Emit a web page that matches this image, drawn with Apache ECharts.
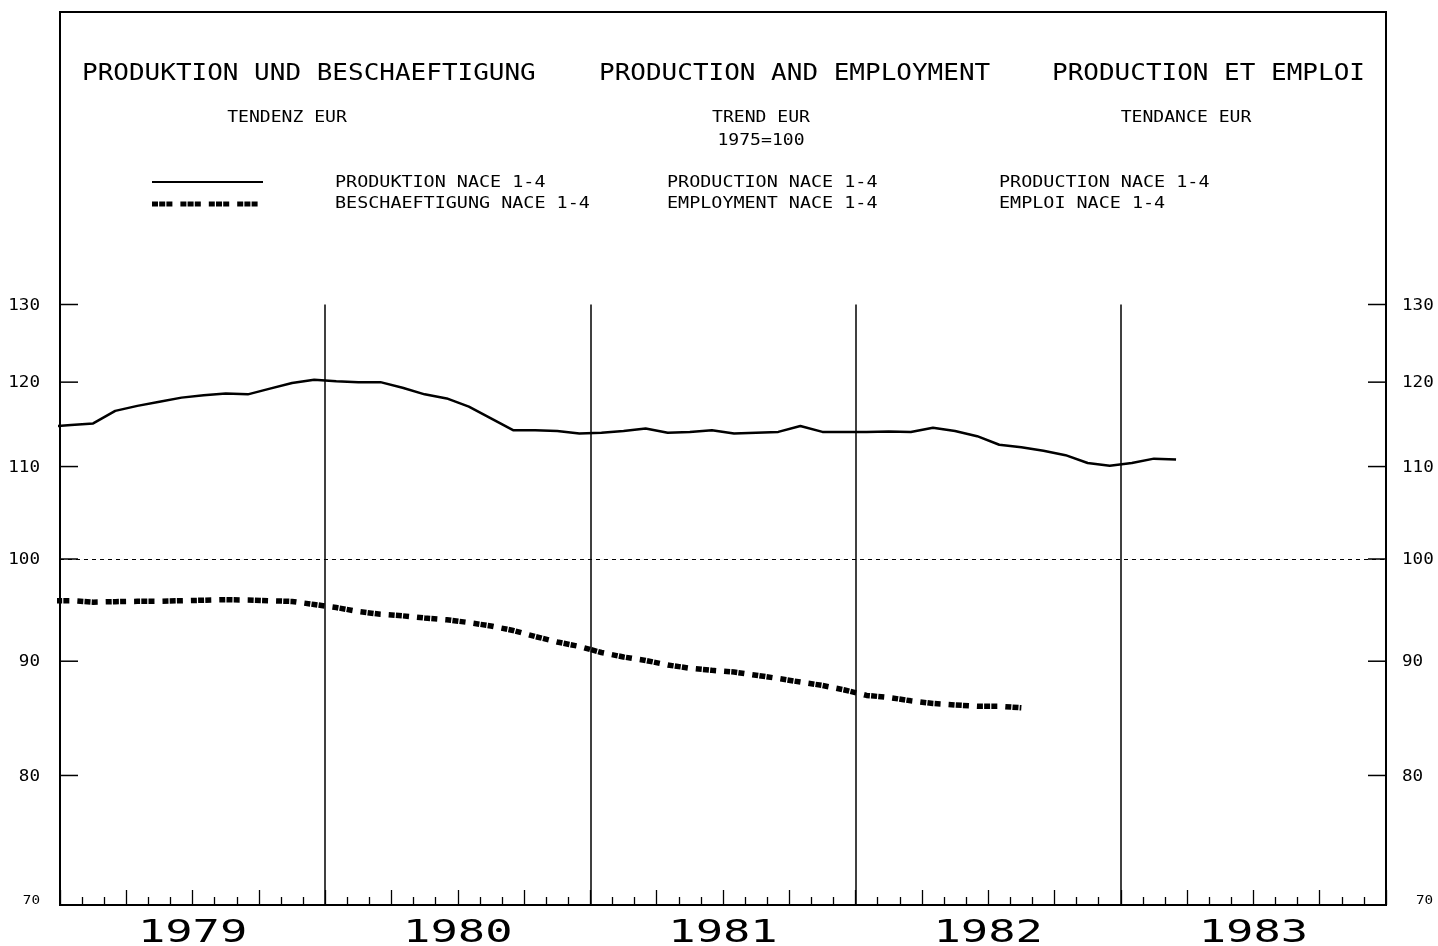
<!DOCTYPE html>
<html><head><meta charset="utf-8">
<script src="https://cdn.jsdelivr.net/npm/echarts@6/dist/echarts.min.js"></script>
<style>html,body{margin:0;padding:0;background:#fff}#c{width:1438px;height:946px}</style>
</head><body><div id="c"></div>
<script>
// ---- data ----
const years = ['1979', '1980', '1981', '1982', '1983'];
const yTicks = [70, 80, 90, 100, 110, 120, 130];
const firstMonth = -1; // first value = Dec 1978 (month index relative to Jan 1979)
// Production NACE 1-4, trend, 1975=100 (Dec 1978 .. Mar 1983)
const production = [
  114.6,
  114.8, 115.0, 116.5, 117.1, 117.6, 118.1, 118.4, 118.6, 118.5, 119.2, 119.9, 120.3,
  120.1, 120.0, 120.0, 119.3, 118.5, 118.0, 117.0, 115.6, 114.2, 114.2, 114.1, 113.8,
  113.9, 114.1, 114.4, 113.9, 114.0, 114.2, 113.8, 113.9, 114.0, 114.7, 114.0, 114.0,
  114.0, 114.05, 114.0, 114.5, 114.1, 113.5, 112.5, 112.2, 111.8, 111.3, 110.4, 110.1,
  110.4, 110.9, 110.8
];
// Employment NACE 1-4, trend, 1975=100 (Dec 1978 .. Aug 1982)
const employment = [
  95.8,
  95.8, 95.65, 95.7, 95.73, 95.74, 95.79, 95.84, 95.89, 95.86, 95.79, 95.72, 95.42,
  95.12, 94.73, 94.46, 94.31, 94.10, 93.93, 93.66, 93.33, 92.90, 92.32, 91.80, 91.38,
  90.81, 90.39, 90.07, 89.65, 89.35, 89.16, 89.00, 88.71, 88.41, 88.09, 87.78, 87.37,
  86.88, 86.70, 86.40, 86.16, 86.03, 85.92, 85.92, 85.78
];
const titles = ['PRODUKTION UND BESCHAEFTIGUNG', 'PRODUCTION AND EMPLOYMENT', 'PRODUCTION ET EMPLOI'];
const subtitles = ['TENDENZ EUR', 'TREND EUR', 'TENDANCE EUR'];
const baseNote = '1975=100';
const legendProd = ['PRODUKTION NACE 1-4', 'PRODUCTION NACE 1-4', 'PRODUCTION NACE 1-4'];
const legendEmp = ['BESCHAEFTIGUNG NACE 1-4', 'EMPLOYMENT NACE 1-4', 'EMPLOI NACE 1-4'];

// ---- chart ----
const FONT = '"DejaVu Sans Mono", monospace';
const xMax = years.length * 12;
const empDash = [6, 1.2, 6, 1.2, 6, 8];

const toPts = arr => arr.map((v, i) => [firstMonth + i + 0.5, v]);

function txt(text, x, y, size, sx, align) {
  return {
    type: 'text', x: x, y: y, scaleX: sx, silent: true,
    style: { text: text, font: 'normal ' + size + 'px ' + FONT, fill: '#000',
      textAlign: align || 'left', textVerticalAlign: 'middle' }
  };
}

const titleX = [82, 599, 1052];
const subX = [287, 761, 1186];
const legX = [335, 667, 999];
const graphics = [];
titles.forEach((t, i) => graphics.push(txt(t, titleX[i], 74, 23, 1.13, 'left')));
subtitles.forEach((t, i) => graphics.push(txt(t, subX[i], 118, 16, 1.13, 'center')));
graphics.push(txt(baseNote, subX[1], 141, 16, 1.13, 'center'));
legendProd.forEach((t, i) => graphics.push(txt(t, legX[i], 183, 16, 1.15, 'left')));
legendEmp.forEach((t, i) => graphics.push(txt(t, legX[i], 204, 16, 1.15, 'left')));
graphics.push({ type: 'line', silent: true, shape: { x1: 152, y1: 182, x2: 263, y2: 182 },
  style: { stroke: '#000', lineWidth: 2 } });
graphics.push({ type: 'line', silent: true, shape: { x1: 152, y1: 204, x2: 263, y2: 204 },
  style: { stroke: '#000', lineWidth: 5, lineDash: empDash } });

const yearLines = years.slice(0, -1).map((y, i) => [
  { coord: [(i + 1) * 12, 70] }, { coord: [(i + 1) * 12, 130] }
]);

const option = {
  animation: false,
  backgroundColor: '#fff',
  grid: { left: 60, right: 52, top: 12, bottom: 41, show: true, borderColor: '#000', borderWidth: 2, backgroundColor: 'transparent' },
  xAxis: {
    type: 'value', min: 0, max: xMax, interval: 3,
    axisLine: { show: true, lineStyle: { color: '#000', width: 2 } },
    axisTick: { show: true, inside: true, length: 15, lineStyle: { color: '#000', width: 1.3 } },
    minorTick: { show: true, splitNumber: 3, length: 8, lineStyle: { color: '#000', width: 1.3 } },
    axisLabel: { show: false },
    splitLine: { show: false }
  },
  yAxis: {
    type: 'log', min: 70, max: 175.75,
    axisLine: { show: false }, axisTick: { show: false }, axisLabel: { show: false }, splitLine: { show: false }
  },
  graphic: graphics,
  series: [
    {
      name: 'production', type: 'line', data: toPts(production), showSymbol: false, symbol: 'none',
      lineStyle: { color: '#000', width: 2.5 }, z: 4,
      markLine: {
        silent: true, symbol: ['none', 'none'], label: { show: false }, animation: false,
        lineStyle: { color: '#000', width: 1.5, type: 'solid' },
        data: [
          { yAxis: 100, lineStyle: { type: [4, 4], width: 1, color: '#000' } }
        ].concat(yearLines)
      }
    },
    {
      name: 'employment', type: 'line', data: toPts(employment), showSymbol: false, symbol: 'none',
      lineStyle: { color: '#000', width: 5.5, type: empDash, cap: 'butt' }, z: 4
    },
    {
      name: 'yLabels', type: 'custom', silent: true, clip: false, z: 6,
      data: yTicks.map(v => [0, v]),
      renderItem: function (params, api) {
        const v = api.value(1);
        const pL = api.coord([0, v]);
        const pR = api.coord([xMax, v]);
        const isMin = v === yTicks[0];
        const ch = [];
        if (!isMin) {
          ch.push({ type: 'line', shape: { x1: pL[0], y1: pL[1], x2: pL[0] + 18, y2: pL[1] }, style: { stroke: '#000', lineWidth: 1.5 } });
          ch.push({ type: 'line', shape: { x1: pR[0] - 18, y1: pR[1], x2: pR[0], y2: pR[1] }, style: { stroke: '#000', lineWidth: 1.5 } });
        }
        const size = isMin ? 13 : 16;
        const dy = isMin ? -4 : 1;
        ch.push(txt(String(v), pL[0] - 20, pL[1] + dy, size, 1.1, 'right'));
        ch.push(txt(String(v), pR[0] + (isMin ? 30 : 16), pR[1] + dy, size, 1.1, 'left'));
        return { type: 'group', children: ch };
      }
    },
    {
      name: 'yearLabels', type: 'custom', silent: true, clip: false, z: 6,
      data: years.map((y, i) => [i * 12 + 6, 70]),
      renderItem: function (params, api) {
        const p = api.coord([api.value(0), api.value(1)]);
        return txt(years[params.dataIndex], p[0], p[1] + 29, 32, 1.42, 'center');
      }
    }
  ]
};

const chart = echarts.init(document.getElementById('c'), null, { renderer: 'canvas' });
chart.setOption(option);
</script>
</body></html>
